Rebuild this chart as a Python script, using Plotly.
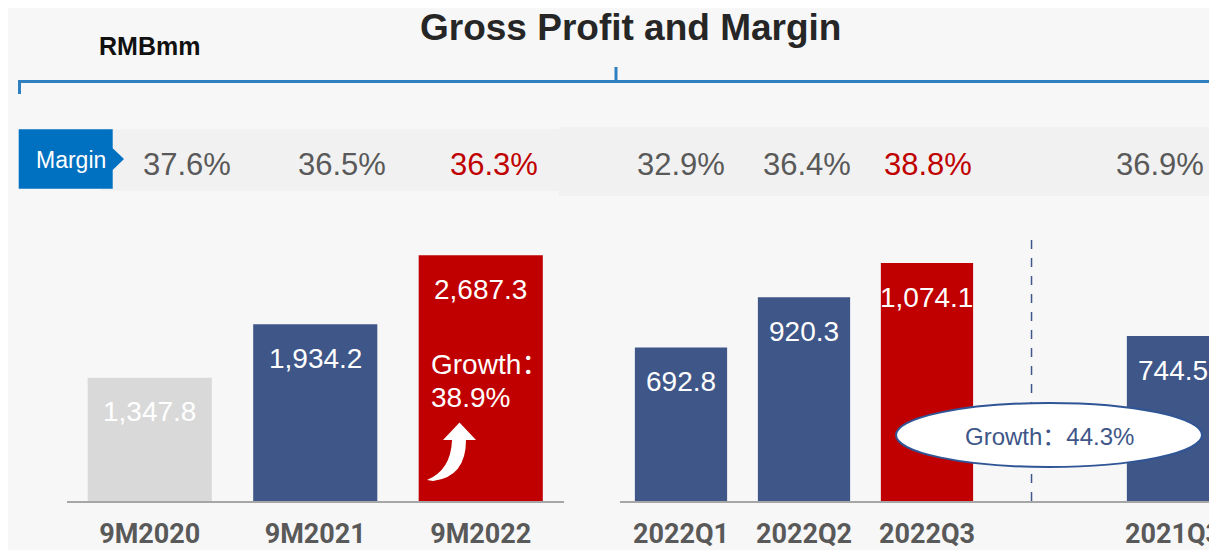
import plotly.graph_objects as go

# Page body has an 8px margin, so the figure is placed at (8, 8) in the window.
OX, OY = 8, 8
W, H = 1209, 542

# ---------------- data ----------------
periods_9m = ["9M2020", "9M2021", "9M2022"]
gross_profit_9m = [1347.8, 1934.2, 2687.3]
margin_9m = ["37.6%", "36.5%", "36.3%"]

quarters = ["2022Q1", "2022Q2", "2022Q3", "2021Q3"]
gross_profit_q = [692.8, 920.3, 1074.1, 744.5]
margin_q = ["32.9%", "36.4%", "38.8%", "36.9%"]
quarter_axis_order = ["2022Q1", "2022Q2", "2022Q3", " ", "2021Q3"]

growth_9m = "38.9%"
growth_q3_yoy = "44.3%"

# ---------------- styles ----------------
bar_colors_9m = ["#d9d9d9", "#3e5688", "#c00000"]
bar_colors_q = ["#3e5688", "#3e5688", "#c00000", "#3e5688"]
margin_colors_9m = ["#595959", "#595959", "#c00000"]
margin_colors_q = ["#595959", "#595959", "#c00000", "#595959"]
margin_xshift_9m = [37, 27, 13]
margin_xshift_q = [0, 3, 1, -13]

BG = "#f7f7f7"
FONT = "Liberation Sans, Arial, Noto Sans CJK SC, sans-serif"
TICKFONT = "Roboto, Liberation Sans, sans-serif"


def px(x):
    """window pixel x -> paper fraction"""
    return (x - OX) / W


def py(y):
    """window pixel y -> paper fraction"""
    return 1 - (y - OY) / H


def pth(cmds):
    """Pixel-space SVG path (window coords, y from top) for pixel-sized shapes anchored at paper (0,0)."""
    out = []
    for c in cmds:
        op, pts = c[0], c[1:]
        coords = " ".join(f"{x - OX},{H - (y - OY)}" for x, y in pts)
        out.append(f"{op}{coords}")
    return " ".join(out)


fig = go.Figure()

fig.add_trace(go.Bar(
    x=periods_9m, y=gross_profit_9m, marker=dict(color=bar_colors_9m, line=dict(width=0)),
    xaxis="x", yaxis="y", showlegend=False, hoverinfo="x+y",
))
fig.add_trace(go.Bar(
    x=quarters, y=gross_profit_q, marker=dict(color=bar_colors_q, line=dict(width=0)),
    xaxis="x2", yaxis="y2", showlegend=False, hoverinfo="x+y",
))

y_bottom = py(501)
y_top = py(235)

axis_common = dict(
    showgrid=False, zeroline=False, ticks="", showline=True,
    linecolor="#a6a6a6", linewidth=2, automargin=False, tickangle=0,
    tickfont=dict(family=TICKFONT, size=27, color="#595959", weight="bold"),
    ticklabelstandoff=8,
)
fig.update_layout(
    width=W, height=H,
    margin=dict(l=0, r=0, t=0, b=0, autoexpand=False),
    paper_bgcolor=BG, plot_bgcolor=BG,
    bargap=0.25,
    xaxis=dict(domain=[px(67), px(563.5)], range=[-0.5, 2.5], type="category",
               categoryorder="array", categoryarray=periods_9m, anchor="y", **axis_common),
    yaxis=dict(domain=[y_bottom, y_top], range=[0, 2910], visible=False, anchor="x"),
    xaxis2=dict(domain=[px(619.5), 1.0], range=[-0.5, 4.358], type="category",
                categoryorder="array", categoryarray=quarter_axis_order, anchor="y2", **axis_common),
    yaxis2=dict(domain=[y_bottom, y_top], range=[0, 1201], visible=False, anchor="x2"),
    font=dict(family=FONT),
)

pix = dict(xref="paper", yref="paper", xsizemode="pixel", ysizemode="pixel", xanchor=0, yanchor=0)
shapes = []
# blue bracket
shapes.append(dict(type="path", **pix,
                   path=pth([("M", (19.5, 94)), ("L", (19.5, 81.5)), ("L", (1213, 81.5)), ("L", (1213, 94))]),
                   line=dict(color="#2e80c0", width=3), layer="above"))
shapes.append(dict(type="path", **pix,
                   path=pth([("M", (616, 81.5)), ("L", (616, 67))]),
                   line=dict(color="#2e80c0", width=3), layer="above"))
# margin bands
shapes.append(dict(type="rect", xref="paper", yref="paper", x0=px(101), x1=px(559), y0=py(191), y1=py(129),
                   fillcolor="#f1f1f1", line=dict(width=0), layer="above"))
shapes.append(dict(type="rect", xref="paper", yref="paper", x0=px(559), x1=1, y0=py(196), y1=py(127),
                   fillcolor="#f1f1f1", line=dict(width=0), layer="above"))
# "Margin" tag
shapes.append(dict(type="path", **pix,
                   path=pth([("M", (18.7, 129.3)), ("L", (112.7, 129.3)), ("L", (112.7, 148.3)),
                             ("L", (124, 159)), ("L", (112.7, 170)), ("L", (112.7, 188.7)),
                             ("L", (18.7, 188.7))]) + " Z",
                   fillcolor="#0070c0", line=dict(width=0), layer="above"))
# dashed separator between current quarters and prior-year quarter
shapes.append(dict(type="line", xref="x2", yref="y2 domain", x0=2.85, x1=2.85, y0=0, y1=1,
                   line=dict(color="#3e5688", width=1.5, dash="dash"), layer="above"))
# growth ellipse
shapes.append(dict(type="circle", xref="paper", yref="paper", x0=px(896), x1=px(1202),
                   y0=py(467), y1=py(403), fillcolor="white",
                   line=dict(color="#2f5597", width=2), layer="above"))
# white curved growth arrow in 9M2022 bar
shapes.append(dict(type="path", **pix,
                   path=pth([("M", (427, 480)), ("Q", (451, 470), (452, 440)), ("L", (443, 440)),
                             ("L", (459.5, 422.5)), ("L", (476, 440)), ("L", (466, 440)),
                             ("Q", (466, 477), (433, 481))]) + " Z",
                   fillcolor="white", line=dict(width=0), layer="above"))
fig.update_layout(shapes=shapes)

ann = []
# title and unit
ann.append(dict(text="<b>Gross Profit and Margin</b>", xref="paper", yref="paper", x=px(630), y=py(28),
                showarrow=False, font=dict(size=37, color="#262626", family=FONT),
                xanchor="center", yanchor="middle"))
ann.append(dict(text="<b>RMBmm</b>", xref="paper", yref="paper", x=px(149), y=py(46),
                showarrow=False, font=dict(size=25, color="#111111", family=FONT),
                xanchor="center", yanchor="middle"))
ann.append(dict(text="Margin", xref="paper", yref="paper", x=px(71), y=py(160),
                showarrow=False, font=dict(size=23, color="white", family=FONT),
                xanchor="center", yanchor="middle"))

# margins row
for cat, m, c, dx in zip(periods_9m, margin_9m, margin_colors_9m, margin_xshift_9m):
    ann.append(dict(text=m, xref="x", yref="paper", x=cat, y=py(164), xshift=dx,
                    showarrow=False, font=dict(size=31, color=c, family=FONT),
                    xanchor="center", yanchor="middle"))
for cat, m, c, dx in zip(quarters, margin_q, margin_colors_q, margin_xshift_q):
    ann.append(dict(text=m, xref="x2", yref="paper", x=cat, y=py(164), xshift=dx,
                    showarrow=False, font=dict(size=31, color=c, family=FONT),
                    xanchor="center", yanchor="middle"))

# value labels inside bars
for cat, v in zip(periods_9m, gross_profit_9m):
    ann.append(dict(text=f"{v:,.1f}", xref="x", yref="y", x=cat, y=v, yshift=-34,
                    showarrow=False, font=dict(size=28, color="white", family=FONT),
                    xanchor="center", yanchor="middle"))
for cat, v in zip(quarters, gross_profit_q):
    ann.append(dict(text=f"{v:,.1f}", xref="x2", yref="y2", x=cat, y=v, yshift=-34,
                    showarrow=False, font=dict(size=28, color="white", family=FONT),
                    xanchor="center", yanchor="middle"))

# growth labels
ann.append(dict(text="Growth：", xref="x", yref="y", x=periods_9m[2], y=gross_profit_9m[2],
                xshift=-52, yshift=-109, showarrow=False,
                font=dict(size=28, color="white", family=FONT), xanchor="left", yanchor="middle"))
ann.append(dict(text=growth_9m, xref="x", yref="y", x=periods_9m[2], y=gross_profit_9m[2],
                xshift=-52, yshift=-142, showarrow=False,
                font=dict(size=28, color="white", family=FONT), xanchor="left", yanchor="middle"))
ann.append(dict(text=f"Growth：{growth_q3_yoy}", xref="paper", yref="paper", x=px(1049), y=py(436),
                showarrow=False, font=dict(size=24, color="#3e5688", family=FONT),
                xanchor="center", yanchor="middle"))

fig.update_layout(annotations=ann)

fig.write_html("out.html")
